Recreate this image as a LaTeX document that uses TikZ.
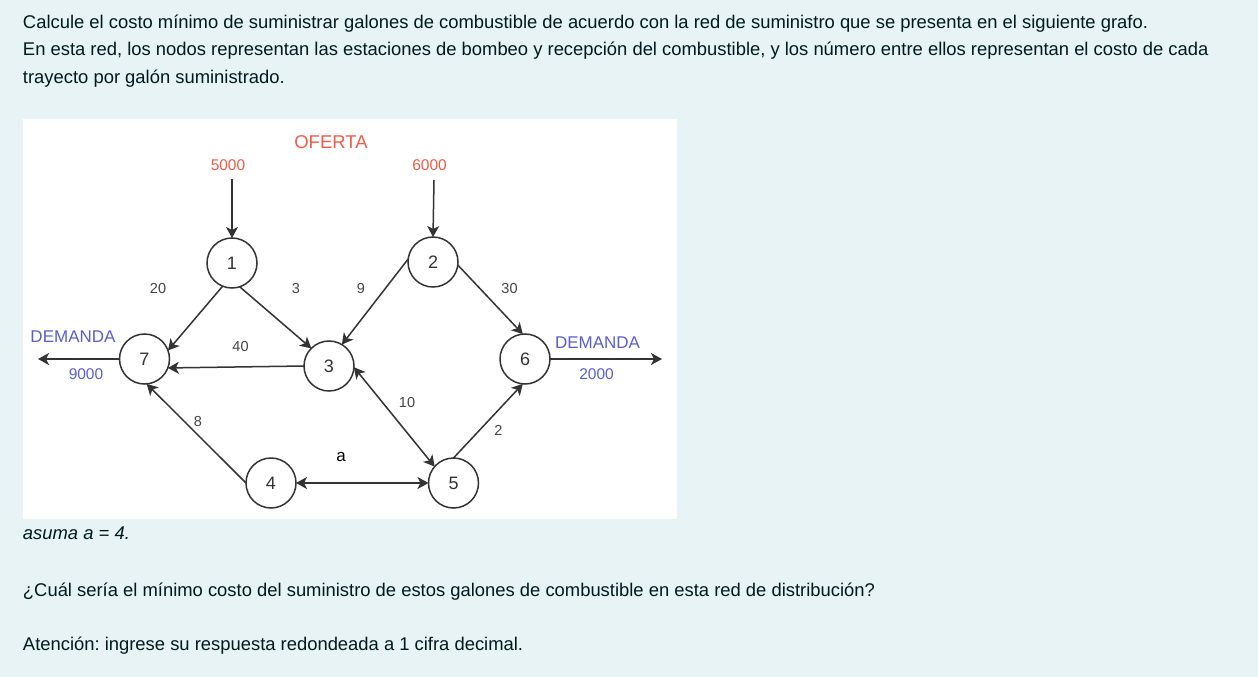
\documentclass[tikz,border=0pt]{standalone}
\usepackage{fontspec}
\setmainfont{Liberation Sans}
\frenchspacing
\usetikzlibrary{arrows.meta}
\definecolor{bgc}{HTML}{E7F3F5}
\definecolor{txt}{HTML}{001A1E}
\definecolor{edge}{HTML}{333333}
\definecolor{lbl}{HTML}{444444}
\definecolor{ofr}{HTML}{F25C46}
\definecolor{dem}{HTML}{5A5FCB}
\begin{document}
\begin{tikzpicture}[x=1pt,y=-1pt,
  every node/.style={inner sep=0pt,outer sep=0pt},
  body/.style={anchor=base west,text=txt,font=\fontsize{18.4}{22}\selectfont},
  station/.style={circle,draw=edge,line width=1.5pt,fill=white,minimum size=50pt,text=edge,font=\fontsize{18}{20}\selectfont},
  conn/.style={draw=edge,line width=1.5pt,-{Stealth[length=11pt,width=12pt,inset=3pt]}},
  bconn/.style={draw=edge,line width=1.5pt,{Stealth[length=11pt,width=12pt,inset=3pt]}-{Stealth[length=11pt,width=12pt,inset=3pt]}},
  cost/.style={text=lbl,font=\fontsize{14.5}{16}\selectfont},
  supply/.style={text=ofr,font=\fontsize{15.5}{18}\selectfont},
  demand/.style={text=dem,font=\fontsize{17}{20}\selectfont},
  qty/.style={text=dem,font=\fontsize{15.5}{18}\selectfont}]
\useasboundingbox (0,0) rectangle (1258,677);
\fill[bgc] (0,0) rectangle (1258,677);
\fill[white] (23,119) rectangle (677,519);
% text
\node[body] (t1) at (23,29) {Calcule el costo mínimo de suministrar galones de combustible de acuerdo con la red de suministro que se presenta en el siguiente grafo.};
\node[body] (t2) at (23,56) {En esta red, los nodos representan las estaciones de bombeo y recepción del combustible, y los número entre ellos representan el costo de cada};
\node[body] (t3) at (23,83) {trayecto por galón suministrado.};
\node[body,font=\fontsize{18.4}{22}\selectfont\itshape] (t4) at (23,539) {asuma a = 4.};
\node[body] (t5) at (23,596) {¿Cuál sería el mínimo costo del suministro de estos galones de combustible en esta red de distribución?};
\node[body] (t6) at (23,650) {Atención: ingrese su respuesta redondeada a 1 cifra decimal.};
% stations
\node[station] (n1) at (232,263) {1};
\node[station] (n2) at (433,262) {2};
\node[station] (n3) at (329,366) {3};
\node[station] (n4) at (271,483) {4};
\node[station] (n5) at (453.5,483) {5};
\node[station] (n6) at (525,359) {6};
\node[station] (n7) at (144.5,359) {7};
% free ends
\coordinate (s1) at (232,179);
\coordinate (s2) at (434,180);
\coordinate (d6) at (662,359);
\coordinate (d7) at (38,359);
% connectors
\draw[conn] (s1) -- (n1.north);
\draw[conn] (s2) -- (n2.north);
\draw[conn] (n1.-112) -- (n7.20);
\draw[conn] (n1.-72) -- (n3.135);
\draw[conn] (n2.173) -- (n3.59);
\draw[conn] (n2.-7) -- (n6.95);
\draw[conn] (n3.west) -- (n7.-21);
\draw[conn] (n4.west) -- (n7.-85);
\draw[bconn] (n4.east) -- (n5.west);
\draw[bconn] (n3.-3) -- (n5.139);
\draw[conn] (n5.north) -- (n6.-95);
\draw[conn] (n6.east) -- (d6);
\draw[conn] (n7.west) -- (d7);
% labels
\node[text=ofr,font=\fontsize{18.5}{20}\selectfont] (oferta) at (331,142) {OFERTA};
\node[supply] (q1) at (228,165) {5000};
\node[supply] (q2) at (429.5,165) {6000};
\node[cost] (c17) at (158,289) {20};
\node[cost] (c13) at (296,289) {3};
\node[cost] (c23) at (361,289) {9};
\node[cost] (c26) at (509.5,289) {30};
\node[cost] (c37) at (240.5,347) {40};
\node[cost] (c47) at (198,422) {8};
\node[cost] (c35) at (407,402.5) {10};
\node[cost] (c56) at (498.5,430) {2};
\node[text=black,font=\fontsize{17}{20}\selectfont] (ca) at (341,457.5) {a};
\node[demand] (dm7) at (73,336.5) {DEMANDA};
\node[qty] (q7) at (86,374) {9000};
\node[demand] (dm6) at (597.5,343) {DEMANDA};
\node[qty] (q6) at (596.5,374) {2000};
\end{tikzpicture}
\end{document}
